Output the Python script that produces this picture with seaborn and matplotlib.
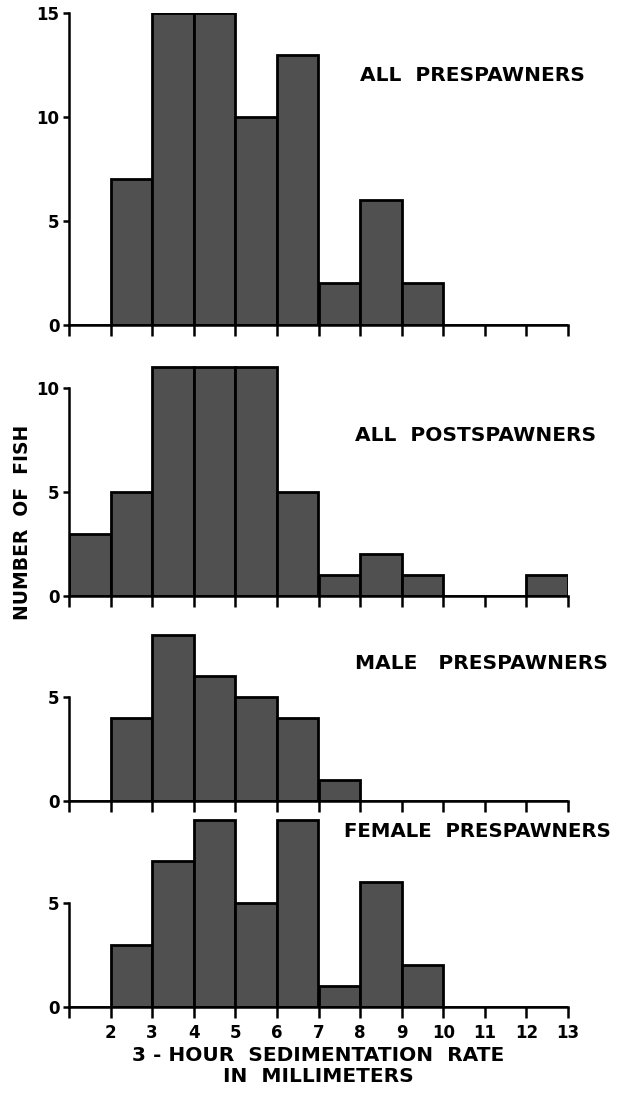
import numpy as np
import matplotlib
matplotlib.use("Agg")
import matplotlib.pyplot as plt
import seaborn as sns

# ---- data (counts per 1-mm bin, bins 1-2, 2-3, ..., 12-13) ----
bin_edges = list(range(1, 14))
all_prespawners = [0, 7, 15, 15, 10, 13, 2, 6, 2, 0, 0, 0]
all_postspawners = [3, 5, 11, 11, 11, 5, 1, 2, 1, 0, 0, 1]
male_prespawners = [0, 4, 8, 6, 5, 4, 1, 0, 0, 0, 0, 0]
female_prespawners = [0, 3, 7, 9, 5, 9, 1, 6, 2, 0, 0, 0]
panel_titles = ["ALL  PRESPAWNERS", "ALL  POSTSPAWNERS",
                "MALE   PRESPAWNERS", "FEMALE  PRESPAWNERS"]
x_ticks = list(range(1, 14))
x_tick_labels = [""] + [str(v) for v in range(2, 14)]
y_ticks_per_panel = [[0, 5, 10, 15], [0, 5, 10], [0, 5], [0, 5]]
y_label = "NUMBER  OF  FISH"
x_label = "3 - HOUR  SEDIMENTATION  RATE\nIN  MILLIMETERS"

series = [all_prespawners, all_postspawners, male_prespawners, female_prespawners]

sns.set_style("white")
plt.rcParams["font.family"] = ["DejaVu Sans"]
plt.rcParams["font.weight"] = "bold"
for k in ["text.color", "axes.labelcolor", "xtick.color", "ytick.color"]:
    plt.rcParams[k] = "black"

W, H = 619, 1096
fig = plt.figure(figsize=(W / 100, H / 100), dpi=100)

px_per_unit = 20.8
left_px, right_px = 69, 568
# (pixel row of y=0, ylim top) per panel
panel_layout = [(325, 15.0), (596, 11.4), (801, 8.4), (1007, 9.4)]
title_pos = [(8.0, 12.0), (7.88, 7.74), (7.88, 6.63), (7.62, 8.46)]

centers = [(a + b) / 2 for a, b in zip(bin_edges[:-1], bin_edges[1:])]

for i, (counts, (y0px, ytop)) in enumerate(zip(series, panel_layout)):
    top_px = y0px - ytop * px_per_unit
    ax = fig.add_axes([left_px / W, 1 - y0px / H,
                       (right_px - left_px) / W, (y0px - top_px) / H])
    xs = [c for c, n in zip(centers, counts) if n > 0]
    ws = [n for n in counts if n > 0]
    sns.histplot(x=xs, weights=ws, bins=bin_edges, ax=ax,
                 color="#505050", alpha=1.0, edgecolor="black",
                 linewidth=2.0)
    ax.set_xlim(1, 13)
    ax.set_ylim(0, ytop)
    ax.set_ylabel("")
    ax.set_xlabel("")
    for s in ["top", "right"]:
        ax.spines[s].set_visible(False)
    ax.spines["left"].set_bounds(0, y_ticks_per_panel[i][-1])
    for s in ["left", "bottom"]:
        ax.spines[s].set_linewidth(1.8)
        ax.spines[s].set_color("black")
    ax.set_xticks(x_ticks)
    if i == 3:
        ax.set_xticklabels(x_tick_labels, fontsize=12, fontweight="bold")
    else:
        ax.set_xticklabels([])
    ax.set_yticks(y_ticks_per_panel[i])
    ax.set_yticklabels([str(v) for v in y_ticks_per_panel[i]],
                       fontsize=12, fontweight="bold")
    ax.tick_params(axis="x", direction="out", length=8, width=1.8,
                   pad=4, bottom=True)
    ax.tick_params(axis="y", direction="out", length=4, width=1.8,
                   pad=3, left=True)
    ax.patch.set_alpha(0)
    ax.text(title_pos[i][0], title_pos[i][1], panel_titles[i],
            fontsize=14.5 if i < 3 else 14.2, fontweight="bold",
            va="center", ha="left", clip_on=False)

fig.text(22 / W, 1 - 522 / H, y_label, rotation=90, ha="center", va="center",
         fontsize=13.5, fontweight="bold")
fig.text(318 / W, 1 - 1066 / H, x_label, ha="center", va="center",
         fontsize=14.5, fontweight="bold", linespacing=1.15)

fig.savefig("out.png", dpi=100)
